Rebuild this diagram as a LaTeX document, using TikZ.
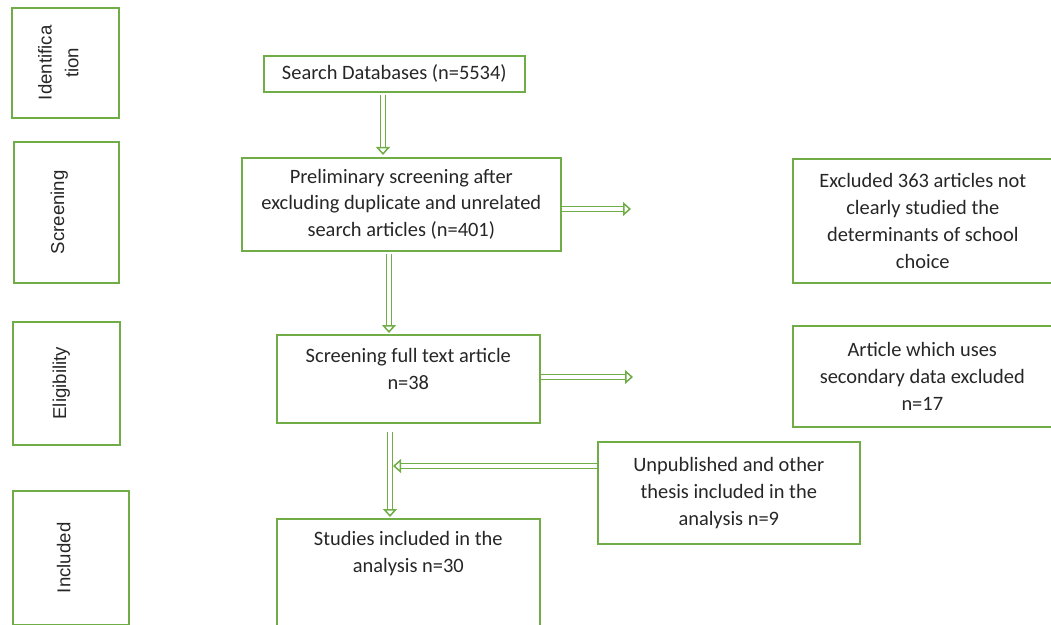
\documentclass[tikz,border=0pt]{standalone}
\usepackage{fontspec}
\setmainfont{Carlito}
\newfontfamily\arialfont{Liberation Sans}
\usetikzlibrary{arrows.meta,calc}
\definecolor{grn}{HTML}{70AD47}
\tikzset{
  box/.style={draw=grn, line width=1.6bp, rectangle, anchor=north west, inner sep=0pt},
  txt/.style={font=\fontsize{20.5}{27}\selectfont, align=center, text=black!85},
  stagetxt/.style={font=\arialfont\fontsize{18.7}{27}\selectfont, align=center, rotate=90, text=black!85},
  arr/.style={draw=grn, line width=1.5bp, double=white, double distance=3.4bp,
    -{Triangle[open, length=8bp, width=14bp, fill=white]}},
}
\begin{document}
\begin{tikzpicture}[x=1bp,y=-1bp]
\useasboundingbox (0,0) rectangle (1051,625);
% stage boxes
\node[box, minimum width=107bp, minimum height=110bp] (s1) at (11,7) {};
\node[stagetxt] at ($(s1.center)+(-7,0)$) {Identifica\\tion};
\node[box, minimum width=105bp, minimum height=141bp] (s2) at (13,141) {};
\node[stagetxt] at ($(s2.center)+(-7,0)$) {Screening};
\node[box, minimum width=107bp, minimum height=123bp] (s3) at (12,321) {};
\node[stagetxt] at ($(s3.center)+(-5,0)$) {Eligibility};
\node[box, minimum width=116bp, minimum height=134bp] (s4) at (12,490) {};
\node[stagetxt] at ($(s4.center)+(-7,0)$) {Included};
% main boxes
\node[box, minimum width=261bp, minimum height=36bp, txt] (search) at (263,55) {Search Databases (n=5534)};
\node[box, minimum width=319bp, minimum height=93bp, txt] (prelim) at (241,157) {Preliminary screening after\\excluding duplicate and unrelated\\search articles (n=401)};
\node[box, minimum width=260bp, minimum height=124bp, txt] (excl) at (792,158) {Excluded 363 articles not\\clearly studied the\\determinants of school\\choice};
\node[box, minimum width=263bp, minimum height=88bp] (full) at (276,334) {};
\node[txt, anchor=north] (fulltxt) at ($(full.north)+(0,11)$) {Screening full text article\\n=38};
\node[box, minimum width=259bp, minimum height=101bp, txt] (art) at (792,325) {Article which uses\\secondary data excluded\\n=17};
\node[box, minimum width=262bp, minimum height=102bp, txt] (unpub) at (597,441) {Unpublished and other\\thesis included in the\\analysis n=9};
\node[box, minimum width=263bp, minimum height=112bp] (stud) at (276,518) {};
\node[txt, anchor=north] (studtxt) at ($(stud.north)+(0,10)$) {Studies included in the\\analysis n=30};
% free ends
\coordinate (e1) at (631,209);
\coordinate (e2) at (633,377);
% connectors
\draw[arr] (search.south -| 383,0) ++(0,2) -- ($(prelim.north -| 383,0)+(0,-2)$);
\draw[arr] (prelim.south -| 389,0) ++(0,2) -- ($(full.north -| 389,0)+(0,-1)$);
\draw[arr] (prelim.east |- e1) -- (e1);
\draw[arr] (full.east |- e2) -- (e2);
\draw[arr] (full.south -| 390,0) ++(0,8) -- ($(stud.north -| 390,0)+(0,-1)$);
\draw[arr] (unpub.west |- 0,466) -- (393,466);
\end{tikzpicture}
\end{document}
